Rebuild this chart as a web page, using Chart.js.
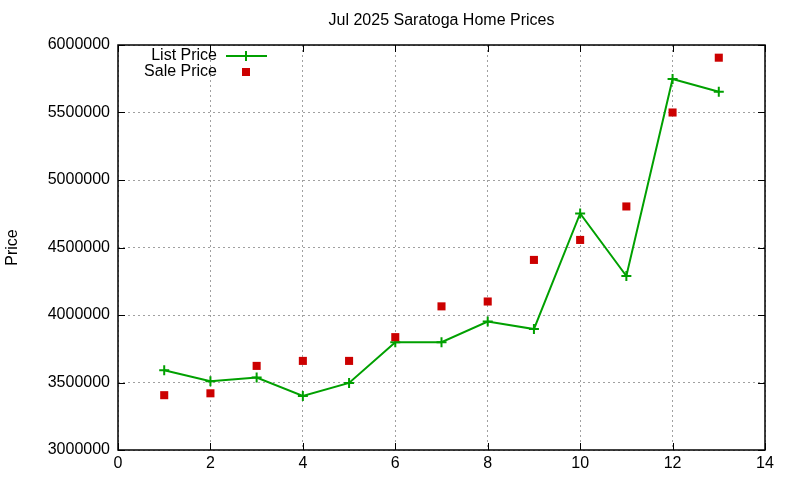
<!DOCTYPE html>
<html>
<head>
<meta charset="utf-8">
<title>Jul 2025 Saratoga Home Prices</title>
<script src="https://cdn.jsdelivr.net/npm/chart.js@4.4.1/dist/chart.umd.min.js"></script>
<style>
  html, body { margin: 0; padding: 0; background: #fff; }
  #wrap { width: 800px; height: 480px; }
</style>
</head>
<body>
<div id="wrap"><canvas id="myChart" width="800" height="480"></canvas></div>
<script>
// data
const months = [1, 2, 3, 4, 5, 6, 7, 8, 9, 10, 11, 12, 13];
const listPrice = [3591000, 3510000, 3537000, 3400000, 3497000, 3799000, 3799000, 3952000, 3896000, 4752000, 4289000, 5748000, 5654000];
const salePrice = [3406000, 3420000, 3623000, 3660000, 3660000, 3836000, 4064000, 4100000, 4408000, 4556000, 4804000, 5500000, 5906000];
const xTicks = [0, 2, 4, 6, 8, 10, 12, 14];
const yTicks = [3000000, 3500000, 4000000, 4500000, 5000000, 5500000, 6000000];

const FONT = '"Liberation Sans", Arial, sans-serif';
const GREEN = '#00a000';
const RED = '#cc0000';

// gnuplot-ish frame: border, mirrored inward ticks, title, y label, legend
const framePlugin = {
    id: 'frame',
    afterDraw(chart) {
        const ctx = chart.ctx;
        const a = chart.chartArea;
        const xs = chart.scales.x;
        const ys = chart.scales.y;
        ctx.save();

        // inward ticks
        ctx.strokeStyle = '#000';
        ctx.lineWidth = 1;
        ctx.beginPath();
        xTicks.forEach(v => {
            const px = Math.round(xs.getPixelForValue(v)) + 0.5;
            ctx.moveTo(px, a.bottom); ctx.lineTo(px, a.bottom - 7);
            ctx.moveTo(px, a.top); ctx.lineTo(px, a.top + 7);
        });
        yTicks.forEach(v => {
            const py = Math.round(ys.getPixelForValue(v)) + 0.5;
            ctx.moveTo(a.left, py); ctx.lineTo(a.left + 7, py);
            ctx.moveTo(a.right, py); ctx.lineTo(a.right - 7, py);
        });
        ctx.stroke();

        // border
        ctx.lineWidth = 1.5;
        ctx.strokeRect(a.left, a.top, a.right - a.left, a.bottom - a.top);

        // title
        ctx.fillStyle = '#000';
        ctx.font = '16px ' + FONT;
        ctx.textAlign = 'center';
        ctx.textBaseline = 'middle';
        ctx.fillText('Jul 2025 Saratoga Home Prices', (a.left + a.right) / 2, 21);

        // y axis label
        ctx.save();
        ctx.translate(13, (a.top + a.bottom) / 2);
        ctx.rotate(-Math.PI / 2);
        ctx.fillText('Price', 0, 0);
        ctx.restore();

        // legend
        ctx.textAlign = 'right';
        ctx.fillText('List Price', 217, 56);
        ctx.fillText('Sale Price', 217, 71.5);
        ctx.strokeStyle = GREEN;
        ctx.lineWidth = 2;
        ctx.beginPath();
        ctx.moveTo(226, 56); ctx.lineTo(267, 56);
        ctx.moveTo(246, 51); ctx.lineTo(246, 61);
        ctx.stroke();
        ctx.fillStyle = RED;
        ctx.fillRect(242, 68, 8, 8);

        ctx.restore();
    }
};

new Chart(document.getElementById('myChart').getContext('2d'), {
    type: 'line',
    data: {
        datasets: [{
            label: 'List Price',
            data: months.map((m, i) => ({ x: m, y: listPrice[i] })),
            borderColor: GREEN,
            backgroundColor: GREEN,
            borderWidth: 2,
            pointStyle: 'cross',
            pointRadius: 5,
            pointBorderWidth: 2,
            tension: 0,
            order: 2
        }, {
            label: 'Sale Price',
            data: months.map((m, i) => ({ x: m, y: salePrice[i] })),
            showLine: false,
            borderColor: RED,
            backgroundColor: RED,
            pointStyle: 'rect',
            pointRadius: 5.7,
            pointBorderWidth: 0,
            order: 1
        }]
    },
    options: {
        responsive: false,
        animation: false,
        devicePixelRatio: 1,
        layout: { padding: { left: 0, right: 35, top: 45, bottom: 0 } },
        plugins: {
            legend: { display: false },
            title: { display: false },
            tooltip: { enabled: false }
        },
        scales: {
            x: {
                type: 'linear',
                min: 0,
                max: 14,
                afterBuildTicks: s => { s.ticks = xTicks.map(v => ({ value: v })); },
                afterFit: s => { s.height = 30; },
                ticks: { color: '#000', font: { family: FONT, size: 16 }, padding: 4, maxRotation: 0 },
                grid: { color: '#a0a0a0', lineWidth: 1, drawTicks: false },
                border: { display: false, dash: [2, 3] }
            },
            y: {
                type: 'linear',
                min: 3000000,
                max: 6000000,
                afterBuildTicks: s => { s.ticks = yTicks.map(v => ({ value: v })); },
                afterFit: s => { s.width = 118; },
                ticks: { color: '#000', font: { family: FONT, size: 16 }, padding: 8, callback: v => String(v) },
                grid: { color: '#a0a0a0', lineWidth: 1, drawTicks: false },
                border: { display: false, dash: [2, 3] }
            }
        }
    },
    plugins: [framePlugin]
});
</script>
</body>
</html>
